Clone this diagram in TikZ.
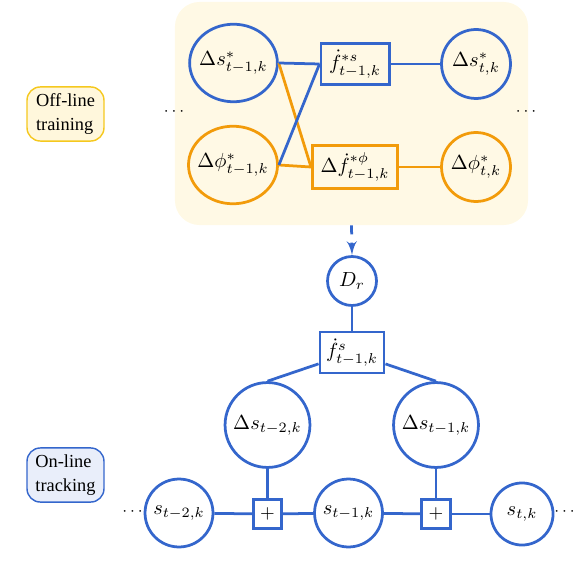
\documentclass[tikz,border=0pt]{standalone}
\usepackage[no-math]{fontspec}
\usepackage{amssymb}
\usepackage{amsmath}
\usepackage{tikz}
\usetikzlibrary{arrows,shapes.geometric}
\newfontfamily\labelfont{Liberation Serif}
\definecolor{myblue}{RGB}{52,102,204}
\definecolor{myorange}{RGB}{242,155,10}
\definecolor{bgyellow}{RGB}{255,249,229}
\definecolor{lblyellow}{RGB}{255,247,220}
\definecolor{lblgold}{RGB}{245,200,30}
\definecolor{lblblue}{RGB}{233,238,250}
\begin{document}
\begin{tikzpicture}[x=0.49pt,y=-0.49pt]
\tikzset{vertex/.style = {shape=circle,draw=myblue,line width=1.35pt,inner sep=0pt}}
\tikzset{evertex/.style = {shape=ellipse,draw=myblue,line width=1.35pt,inner xsep=-2pt,inner ysep=0pt,
  minimum width=43pt,minimum height=38pt}}
\tikzset{func/.style = {shape=rectangle,draw=myblue,line width=1.35pt,inner xsep=4pt,minimum height=19.6pt}}
\tikzset{edge/.style = {-,line width=1.35pt,draw=myblue,> = latex'}}
\tikzset{oedge/.style = {-,line width=1.35pt,draw=myorange}}
\tikzset{phase/.style = {shape=rectangle,rounded corners=6.5pt,line width=0.7pt,align=left,
  font=\labelfont\fontsize{9}{12}\selectfont,inner sep=2pt,minimum width=37.7pt,minimum height=26.5pt}}
\useasboundingbox (0,0) rectangle (576,584);
% off-line part
\node[shape=rectangle,rounded corners=12pt,fill=bgyellow,minimum width=173pt,minimum height=109.3pt] (train) at (351.5,113.5) {};
\node[phase,draw=lblgold,fill=lblyellow] (offline) at (65.5,114) {Off-line\\training};
\node[evertex] (ds1) at (233.5,63) {$\Delta s^*_{t-1,k}$};
\node[evertex,draw=myorange] (dp1) at (233,165) {$\Delta \phi^*_{t-1,k}$};
\node[func] (fsstar) at (355,64) {$\dot{f}^{*s}_{t-1,k}$};
\node[func,draw=myorange] (fpstar) at (355,167) {$\Delta\dot{f}^{*\phi}_{t-1,k}$};
\node[vertex,minimum size=33.8pt] (ds0) at (476,64) {$\Delta s^*_{t,k}$};
\node[vertex,draw=myorange,minimum size=33.8pt] (dp0) at (476,167) {$\Delta \phi^*_{t,k}$};
\node[font=\footnotesize] (ldots1) at (175.5,112) {$\cdots$};
\node[font=\footnotesize] (rdots1) at (527.5,112) {$\cdots$};
% on-line part
\node[phase,draw=myblue,fill=lblblue] (online) at (65.5,475) {On-line\\tracking};
\node[vertex,minimum size=24pt] (dr) at (352,281) {$D_r$};
\node[func,inner xsep=3pt] (fs) at (352,352.5) {$\dot{f}^{s}_{t-1,k}$};
\node[vertex,minimum size=41.6pt] (dss2) at (267.5,425) {$\Delta s_{t-2,k}$};
\node[vertex,minimum size=41.6pt] (dss1) at (436,425) {$\Delta s_{t-1,k}$};
\node[vertex,minimum size=33.3pt] (s2) at (179,513) {$s_{t-2,k}$};
\node[func,minimum size=14pt,inner sep=0pt,font=\small] (p1) at (267.5,514) {$+$};
\node[vertex,minimum size=33.3pt] (s1) at (348.5,513) {$s_{t-1,k}$};
\node[func,minimum size=14pt,inner sep=0pt,font=\small] (p2) at (436,514) {$+$};
\node[vertex,minimum size=30.4pt] (s0) at (522,514) {$s_{t,k}$};
\node[font=\footnotesize] (ldots2) at (134,512) {$\cdots$};
\node[font=\footnotesize] (rdots2) at (566,512) {$\cdots$};
%edges
\draw[oedge] (ds1.east) to (fpstar.west);
\draw[oedge] (dp1.east) to (fpstar.west);
\draw[oedge] (fpstar) to (dp0);
\draw[edge] (ds1.east) to (fsstar.west);
\draw[edge] (dp1.east) to (fsstar.west);
\draw[edge] (fsstar) to (ds0);
\draw[edge,->,dash pattern=on 4.4pt off 4pt] (train.south) to (dr.north);
\draw[edge] (dr) to (fs);
\draw[edge] (fs) to (dss2.north);
\draw[edge] (fs) to (dss1.north);
\draw[edge] (dss2) to (p1);
\draw[edge] (dss1) to (p2);
\draw[edge] (s2) to (p1);
\draw[edge] (p1) to (s1);
\draw[edge] (s1) to (p2);
\draw[edge] (p2) to (s0);
\end{tikzpicture}
\end{document}
